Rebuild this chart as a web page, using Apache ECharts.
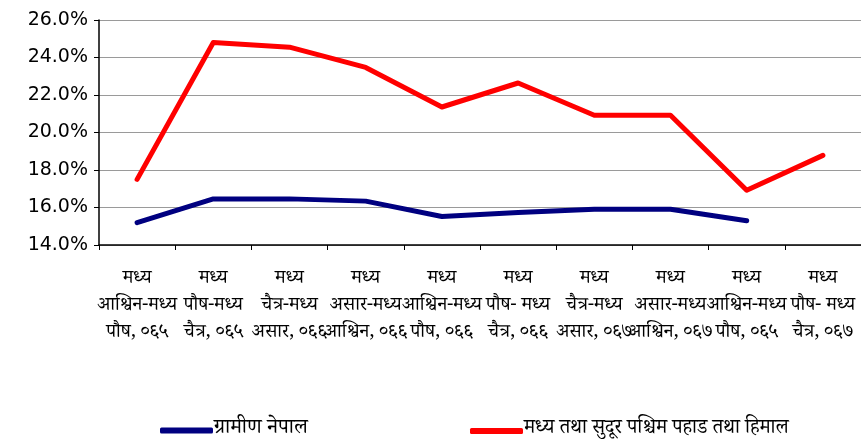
<!DOCTYPE html>
<html>
<head>
<meta charset="utf-8">
<script src="https://cdn.jsdelivr.net/npm/echarts@6/dist/echarts.min.js"></script>
<style>
  html, body { margin: 0; padding: 0; background: #fff; }
  #chart { width: 861px; height: 441px; }
</style>
</head>
<body>
<div id="chart"></div>
<script>
// periods (Nepali calendar)
var categories = [
  'मध्य\nआश्विन-मध्य\nपौष, ०६५',
  'मध्य\nपौष-मध्य\nचैत्र, ०६५',
  'मध्य\nचैत्र-मध्य\nअसार, ०६६',
  'मध्य\nअसार-मध्य\nआश्विन, ०६६',
  'मध्य\nआश्विन-मध्य\nपौष, ०६६',
  'मध्य\nपौष- मध्य\nचैत्र, ०६६',
  'मध्य\nचैत्र-मध्य\nअसार, ०६७',
  'मध्य\nअसार-मध्य\nआश्विन, ०६७',
  'मध्य\nआश्विन-मध्य\nपौष, ०६५',
  'मध्य\nपौष- मध्य\nचैत्र, ०६७'
];
var ruralNepal = [15.19, 16.46, 16.46, 16.34, 15.52, 15.73, 15.91, 15.91, 15.29, null];
var midFarWestHillMountain = [17.5, 24.8, 24.55, 23.47, 21.36, 22.64, 20.92, 20.92, 16.92, 18.78];
var seriesNames = ['ग्रामीण नेपाल', 'मध्य तथा सुदूर पश्चिम पहाड तथा हिमाल'];

var chart = echarts.init(document.getElementById('chart'), null, { renderer: 'canvas' });
var devFont = '"Noto Serif Devanagari", "Noto Sans Devanagari", "Lohit Devanagari", serif';

function legendAt(left, fontSize, name) {
  return {
    bottom: -5,
    left: left,
    itemWidth: 53,
    itemHeight: 6,
    icon: 'roundRect',
    textStyle: { color: '#000', fontSize: fontSize, fontFamily: devFont, padding: [0, 0, 0, -4] },
    data: [name]
  };
}

chart.setOption({
  animation: false,
  legend: [legendAt(155, 21, seriesNames[0]), legendAt(465, 20, seriesNames[1])],
  grid: { left: 99, top: 20, right: 0, height: 225, containLabel: false },
  xAxis: {
    type: 'category',
    data: categories,
    boundaryGap: true,
    axisLine: { lineStyle: { color: '#000', width: 1.5 } },
    axisTick: { show: true, length: 5, lineStyle: { color: '#000' } },
    axisLabel: {
      interval: 0,
      margin: 23,
      color: '#000',
      fontSize: 19,
      lineHeight: 27,
      fontFamily: devFont
    }
  },
  yAxis: {
    type: 'value',
    min: 14, max: 26, interval: 2,
    axisLine: { show: true, lineStyle: { color: '#000', width: 1.5 } },
    axisTick: { show: true, inside: false, length: 5, lineStyle: { color: '#000' } },
    splitLine: { lineStyle: { color: '#9a9a9a', width: 1 } },
    axisLabel: {
      margin: 11,
      color: '#000',
      fontSize: 19,
      fontFamily: 'DejaVu Sans',
      formatter: function(v) { return v.toFixed(1) + '%'; }
    }
  },
  series: [
    {
      name: seriesNames[0],
      type: 'line',
      data: ruralNepal,
      showSymbol: false,
      symbol: 'none',
      lineStyle: { color: '#000080', width: 5, cap: 'round', join: 'round' },
      itemStyle: { color: '#000080' }
    },
    {
      name: seriesNames[1],
      type: 'line',
      data: midFarWestHillMountain,
      showSymbol: false,
      symbol: 'none',
      lineStyle: { color: '#ff0000', width: 5, cap: 'round', join: 'round' },
      itemStyle: { color: '#ff0000' }
    }
  ]
});
window.addEventListener('resize', function() { chart.resize(); });
</script>
</body>
</html>
